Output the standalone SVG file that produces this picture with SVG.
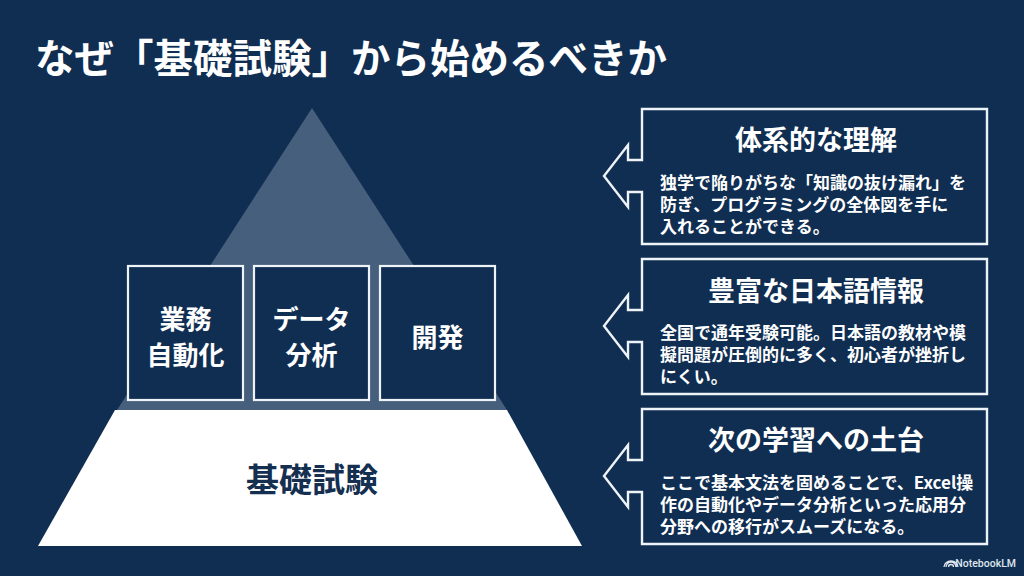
<svg xmlns="http://www.w3.org/2000/svg" width="1024" height="576" viewBox="0 0 1024 576">
<defs>
<style>
.jp{font-family:"Noto Sans CJK JP","Noto Sans",sans-serif;font-weight:700;}
.w{fill:#ffffff;}
.box{fill:#102e52;stroke:#eef3f8;stroke-width:2.2;}
.call{fill:#102e52;stroke:#eef3f8;stroke-width:2.4;stroke-linejoin:miter;}
.lbl{font-size:26px;text-anchor:middle;dominant-baseline:central;}
.ct{font-size:27px;text-anchor:middle;dominant-baseline:central;}
.cb{font-size:17px;dominant-baseline:central;}
</style>
</defs>
<rect x="0" y="0" width="1024" height="576" fill="#102e52"/>
<text class="jp w" x="35" y="55" font-size="39.5" dominant-baseline="central">なぜ「基礎試験」から始めるべきか</text>

<g id="pyramid">
<polygon points="312,108 507,410 117,410" fill="#465f7c"/>
</g>
<g id="base">
<polygon points="115,410 507,410 582,546 38,546" fill="#ffffff"/>
<text class="jp" x="312" y="478" font-size="33" fill="#142f50" text-anchor="middle" dominant-baseline="central">基礎試験</text>
</g>
<g id="pillar1">
<rect class="box" x="128" y="266" width="115" height="134"/>
<text class="jp w lbl" x="185.5" y="317">業務</text>
<text class="jp w lbl" x="185.5" y="353">自動化</text>
</g>
<g id="pillar2">
<rect class="box" x="254" y="266" width="115" height="134"/>
<text class="jp w lbl" x="311.5" y="317">データ</text>
<text class="jp w lbl" x="311.5" y="353">分析</text>
</g>
<g id="pillar3">
<rect class="box" x="380" y="266" width="115" height="134"/>
<text class="jp w lbl" x="437.5" y="335">開発</text>
</g>

<g id="connectors"></g>

<g id="callout1">
<path class="call" d="M642,109 H987 V244 H642 V192 H628 V207 L604,176 L628,145 V160 H642 Z"/>
<text class="jp w ct" x="816" y="138">体系的な理解</text>
<text class="jp w cb" x="660" y="181"><tspan x="660" y="181">独学で陥りがちな「知識の抜け漏れ」を</tspan><tspan x="660" y="203">防ぎ、プログラミングの全体図を手に</tspan><tspan x="660" y="225">入れることができる。</tspan></text>
</g>
<g id="callout2">
<path class="call" d="M642,259 H987 V394 H642 V342 H628 V357 L604,326 L628,295 V310 H642 Z"/>
<text class="jp w ct" x="816" y="289">豊富な日本語情報</text>
<text class="jp w cb" x="660" y="331"><tspan x="660" y="331">全国で通年受験可能。日本語の教材や模</tspan><tspan x="660" y="353">擬問題が圧倒的に多く、初心者が挫折し</tspan><tspan x="660" y="375">にくい。</tspan></text>
</g>
<g id="callout3">
<path class="call" d="M642,409 H987 V544 H642 V492 H628 V507 L604,476 L628,445 V460 H642 Z"/>
<text class="jp w ct" x="816" y="438">次の学習への土台</text>
<text class="jp w cb" x="660" y="481"><tspan x="660" y="481">ここで基本文法を固めることで、Excel操</tspan><tspan x="660" y="503">作の自動化やデータ分析といった応用分</tspan><tspan x="660" y="525">分野への移行がスムーズになる。</tspan></text>
</g>

<g id="watermark">
<path d="M946,567 a5,5 0 0 1 10,0 M948.5,567 a2.5,2.5 0 0 1 5,0 M944,567 a7,6 0 0 1 14,0" fill="none" stroke="#dfe6ee" stroke-width="1.3"/>
<text x="1016" y="567" text-anchor="end" font-family="Roboto,'Noto Sans',sans-serif" font-size="10.5" font-weight="500" fill="#dfe6ee">NotebookLM</text>
</g>
</svg>
